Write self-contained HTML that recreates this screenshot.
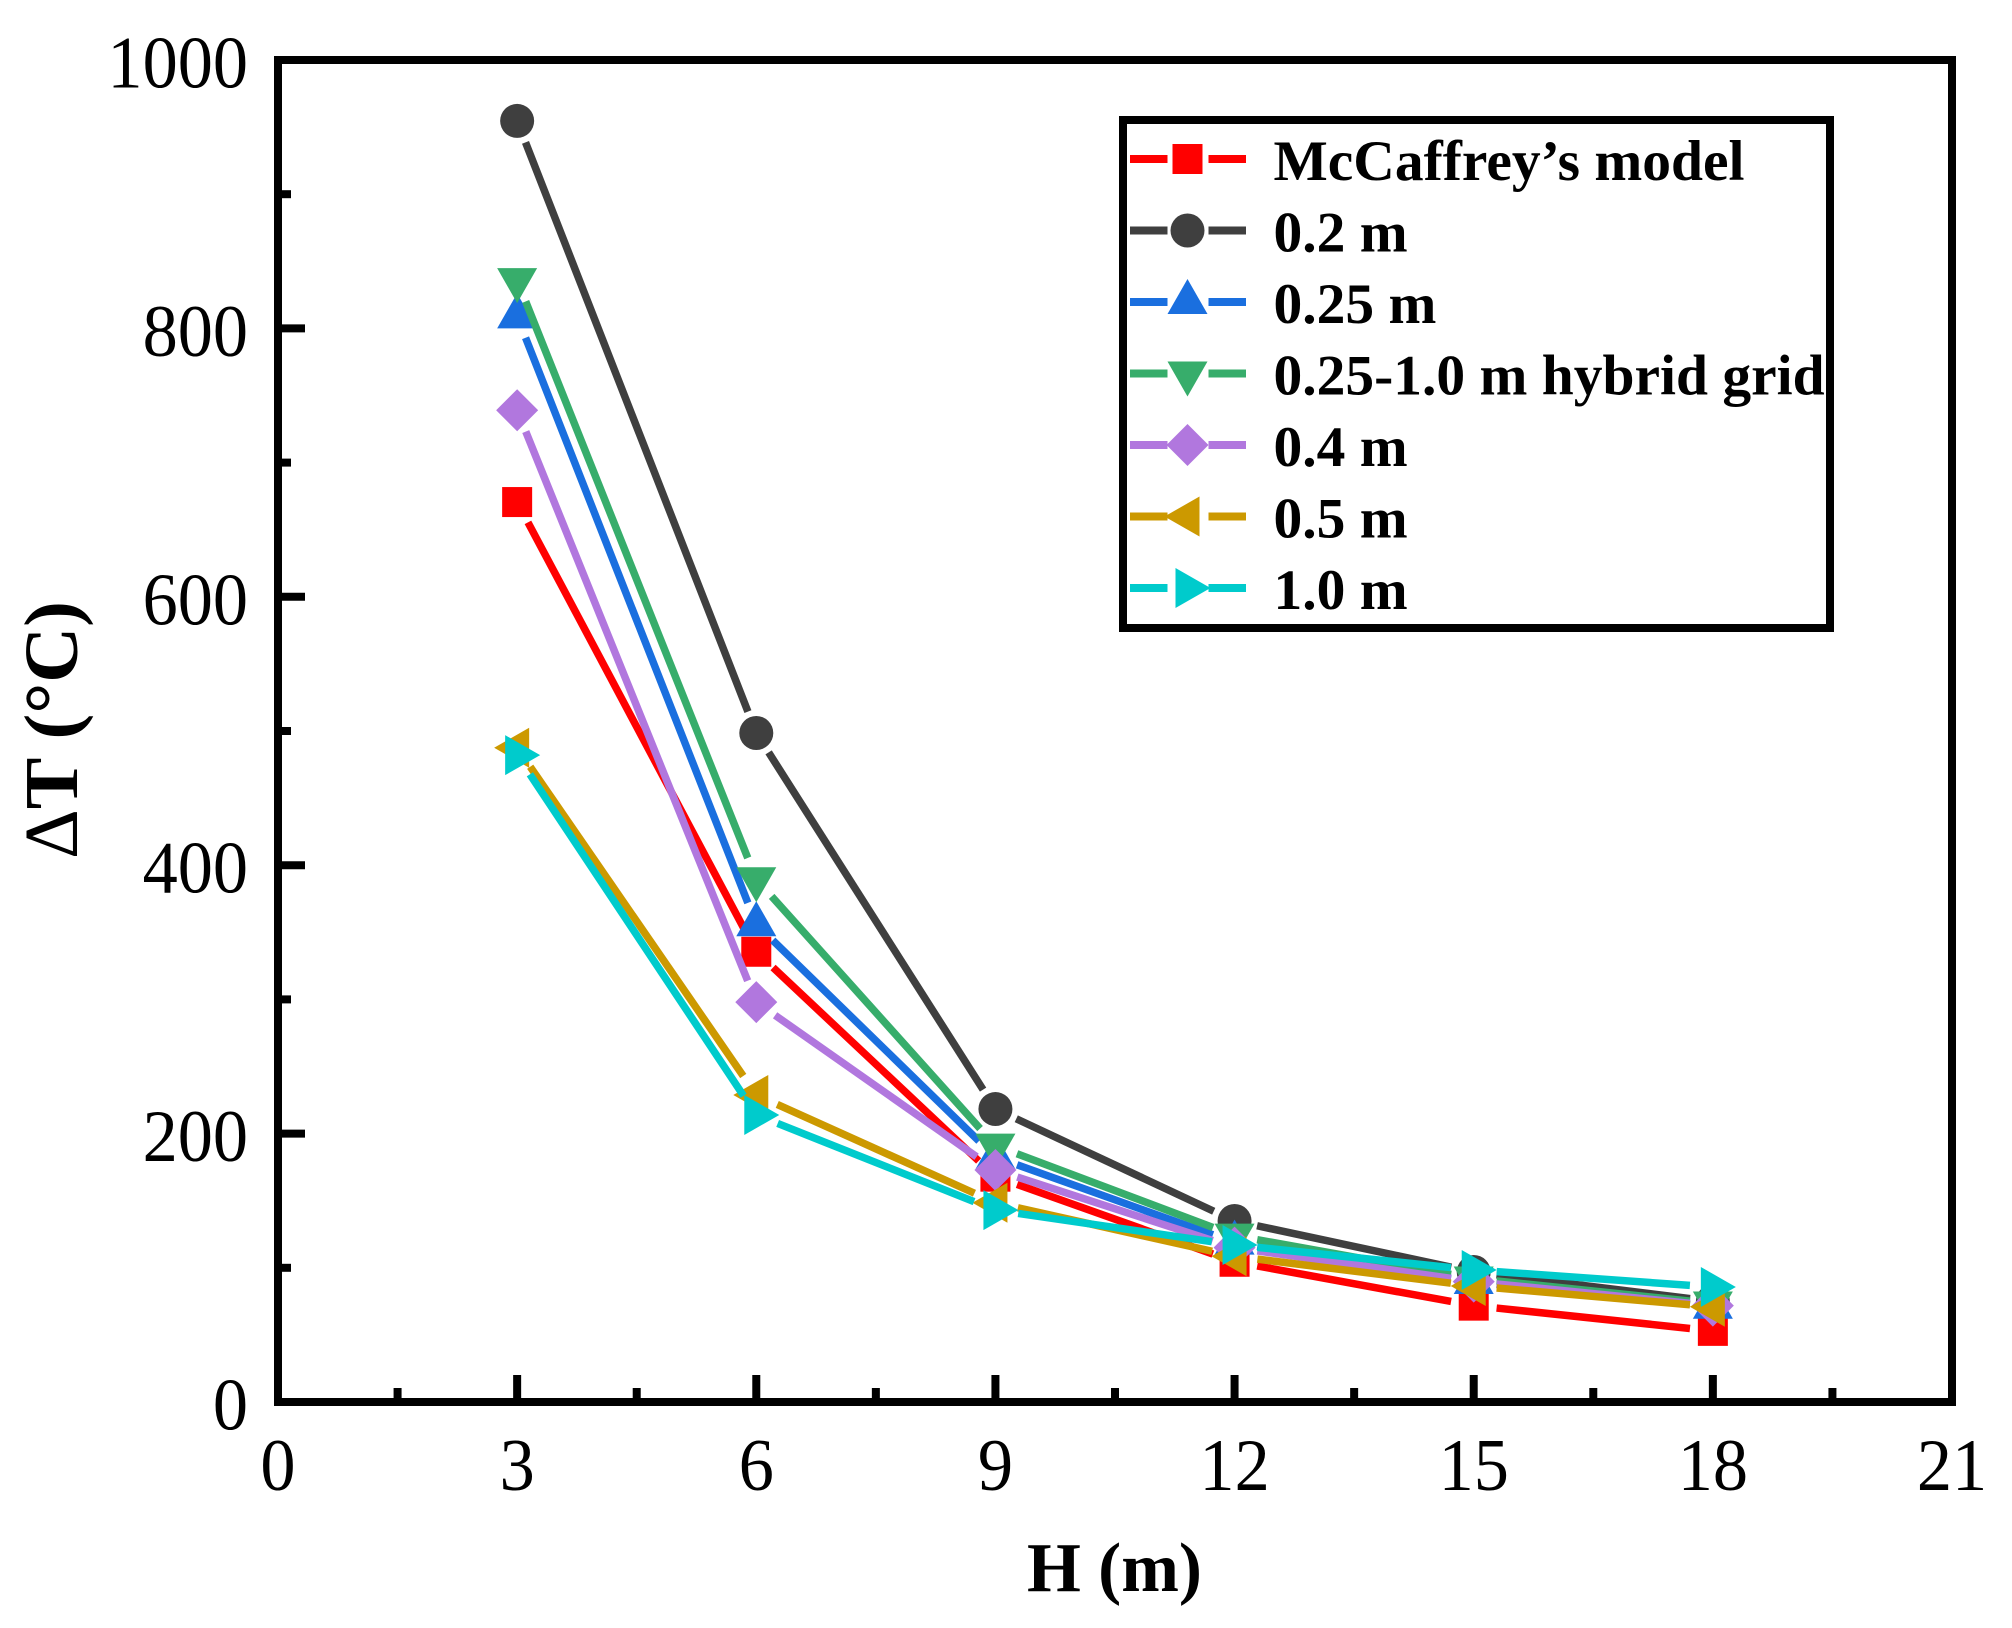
<!DOCTYPE html>
<html lang="en">
<head>
<meta charset="utf-8">
<title>Temperature rise vs height</title>
<style>
html,body{margin:0;padding:0;background:#fff;}
svg{display:block;}
text{font-family:"Liberation Serif",serif;fill:#000;}
</style>
</head>
<body>
<svg id="chart" xmlns="http://www.w3.org/2000/svg" width="2012" height="1628" viewBox="0 0 2012 1628">
  <rect x="0" y="0" width="2012" height="1628" fill="#ffffff"/>
  <g id="ticks"></g>
  <g id="series"></g>
  <rect x="278" y="60" width="1674" height="1342" fill="none" stroke="#000" stroke-width="8"/>
  <g id="labels"></g>
  <text x="1027" y="1591" font-size="70" font-weight="bold" textLength="175" lengthAdjust="spacingAndGlyphs">H (m)</text>
  <text transform="translate(77,859) rotate(-90)" x="0" y="0" font-size="76" font-weight="bold" textLength="258" lengthAdjust="spacingAndGlyphs"><tspan font-weight="normal">Δ</tspan>T (°C)</text>
  <g id="legend"></g>
</svg>
<script>
const heights = [3, 6, 9, 12, 15, 18];
const mccaffrey = [670.6, 335.5, 167.9, 104.5, 71.8, 53];
const grid020 = [954.6, 498.5, 218.3, 134.9, 96.9, 75];
const grid025 = [809, 356, 182.5, 118.8, 89.4, 71];
const hybrid = [836, 389.5, 191, 124, 92, 73.4];
const grid040 = [739, 298, 172.9, 115, 89.7, 71.8];
const grid050 = [487.5, 228.8, 148.5, 108.6, 86.4, 71];
const grid100 = [482, 213.9, 143, 117, 98.4, 85.7];
const seriesNames = ["McCaffrey’s model", "0.2 m", "0.25 m", "0.25-1.0 m hybrid grid", "0.4 m", "0.5 m", "1.0 m"];
const seriesSlugs = ["mccaffrey", "grid-0-2", "grid-0-25", "hybrid-grid", "grid-0-4", "grid-0-5", "grid-1-0"];
const seriesValues = [mccaffrey, grid020, grid025, hybrid, grid040, grid050, grid100];
const seriesColors = ["#ff0000", "#3f3f3f", "#1a6fdf", "#37ad6b", "#b177de", "#cc9900", "#00cbcc"];
const seriesMarkers = ["square", "circle", "up", "down", "diamond", "left", "right"];
const xTickLabels = ["0", "3", "6", "9", "12", "15", "18", "21"];
const yTickLabels = ["0", "200", "400", "600", "800", "1000"];
const xMinorTicks = [1.5, 4.5, 7.5, 10.5, 13.5, 16.5, 19.5];
const yMinorTicks = [100, 300, 500, 700, 900];

const NS = "http://www.w3.org/2000/svg";
const xScale = v => 278 + (v / 21) * 1674;
const yScale = v => 1402 - (v / 1000) * 1342;

function make(tag, attrs, parent) {
  const el = document.createElementNS(NS, tag);
  for (const k in attrs) el.setAttribute(k, attrs[k]);
  parent.appendChild(el);
  return el;
}

function markerPoints(kind, cx, cy) {
  if (kind === "up") return [[cx, cy - 23], [cx + 20, cy + 12], [cx - 20, cy + 12]];
  if (kind === "down") return [[cx, cy + 23], [cx + 20, cy - 12], [cx - 20, cy - 12]];
  if (kind === "left") return [[cx - 23, cy], [cx + 12, cy - 20], [cx + 12, cy + 20]];
  if (kind === "right") return [[cx + 23, cy], [cx - 12, cy - 20], [cx - 12, cy + 20]];
  if (kind === "diamond") return [[cx, cy - 21], [cx + 21, cy], [cx, cy + 21], [cx - 21, cy]];
  return null;
}

function drawMarker(kind, cx, cy, color, parent) {
  if (kind === "square") {
    return make("rect", {x: cx - 15, y: cy - 15, width: 30, height: 30, fill: color}, parent);
  }
  if (kind === "circle") {
    return make("circle", {cx: cx, cy: cy, r: 17, fill: color}, parent);
  }
  const pts = markerPoints(kind, cx, cy).map(p => p.join(",")).join(" ");
  return make("polygon", {points: pts, fill: color}, parent);
}

const tickGroup = document.getElementById("ticks");
const labelGroup = document.getElementById("labels");
const seriesGroup = document.getElementById("series");
const legendGroup = document.getElementById("legend");

xTickLabels.forEach(label => {
  const v = Number(label);
  const x = xScale(v);
  const tick = make("line", {x1: x, x2: x, y1: 1402, y2: 1375, stroke: "#000", "stroke-width": 8}, tickGroup);
  
  
  const t = make("text", {transform: "translate(" + x + ",1490) scale(0.95,1)", "text-anchor": "middle", "font-size": 74}, labelGroup);
  t.textContent = label;
  
  
});
xMinorTicks.forEach(v => {
  const x = xScale(v);
  const tick = make("line", {x1: x, x2: x, y1: 1402, y2: 1388, stroke: "#000", "stroke-width": 8}, tickGroup);
  
  
});
yTickLabels.forEach(label => {
  const v = Number(label);
  const y = yScale(v);
  const tick = make("line", {x1: 278, x2: 305, y1: y, y2: y, stroke: "#000", "stroke-width": 8}, tickGroup);
  
  
  const t = make("text", {transform: "translate(248," + (y + 27.5) + ") scale(0.95,1)", "text-anchor": "end", "font-size": 74}, labelGroup);
  t.textContent = label;
  
  
});
yMinorTicks.forEach(v => {
  const y = yScale(v);
  const tick = make("line", {x1: 278, x2: 291, y1: y, y2: y, stroke: "#000", "stroke-width": 8}, tickGroup);
  
  
});

const markerGap = 23;
seriesValues.forEach((values, s) => {
  const color = seriesColors[s];
  const g = make("g", {}, seriesGroup);
  
  
  for (let i = 0; i < values.length - 1; i++) {
    const x0 = xScale(heights[i]), y0 = yScale(values[i]);
    const x1 = xScale(heights[i + 1]), y1 = yScale(values[i + 1]);
    const len = Math.hypot(x1 - x0, y1 - y0);
    const ux = (x1 - x0) / len, uy = (y1 - y0) / len;
    const seg = make("line", {
      x1: x0 + ux * markerGap, y1: y0 + uy * markerGap,
      x2: x1 - ux * markerGap, y2: y1 - uy * markerGap,
      stroke: color, "stroke-width": 7.5
    }, g);
    
    
  }
  values.forEach((v, i) => {
    const m = drawMarker(seriesMarkers[s], xScale(heights[i]), yScale(v), color, g);
    
    
  });
});

const legendBox = make("rect", {x: 1123, y: 120, width: 707, height: 508, fill: "#fff", stroke: "#000", "stroke-width": 8}, legendGroup);


seriesNames.forEach((name, s) => {
  const rowY = 159 + s * 71.5;
  const row = make("g", {}, legendGroup);
  
  
  const left = make("line", {x1: 1130, x2: 1167.5, y1: rowY, y2: rowY, stroke: seriesColors[s], "stroke-width": 8}, row);
  
  
  const right = make("line", {x1: 1208.5, x2: 1246, y1: rowY, y2: rowY, stroke: seriesColors[s], "stroke-width": 8}, row);
  
  
  const mk = drawMarker(seriesMarkers[s], 1187.5, rowY, seriesColors[s], row);
  
  
  const t = make("text", {x: 1273.5, y: rowY + 21, "font-size": 57.5, "font-weight": "bold"}, row);
  t.textContent = name;
  
  
});
</script>
</body>
</html>
